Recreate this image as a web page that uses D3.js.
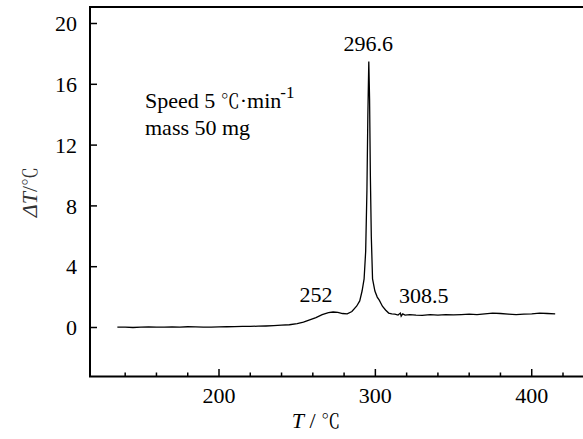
<!DOCTYPE html>
<html><head><meta charset="utf-8">
<script src="https://cdn.jsdelivr.net/npm/d3@7"></script>
<style>body{margin:0;background:#fff}svg{display:block}</style>
</head><body>
<script>
// Data
const temps = [135,140,145,150,155,160,165,170,175,180,185,190,195,200,205,210,215,220,225,230,235,240,245,250,254,258,262,266,270,273,276,279,282,285,288,290,291.5,292.8,293.8,294.6,295.2,295.8,296.3,296.8,297.4,298.2,299.7,301.2,302.5,304.5,306.5,308.5,310.5,312.5,314.5,316,316.5,317.5,319,322,326,330,335,340,345,350,355,360,365,370,375,380,385,390,395,400,405,410,415];
const deltaT = [0.02,0.03,0.0,0.02,0.04,0.02,0.03,0.04,0.03,0.05,0.04,0.03,0.02,0.04,0.05,0.06,0.08,0.07,0.09,0.1,0.12,0.15,0.18,0.25,0.35,0.5,0.65,0.85,0.98,1.02,1.0,0.92,0.9,1.05,1.4,1.75,2.4,3.2,5,9,14,17.5,15,10,6,3.2,2.4,2.0,1.8,1.4,1.15,0.95,0.9,0.88,0.82,0.95,0.75,0.9,0.82,0.85,0.82,0.8,0.85,0.82,0.85,0.83,0.85,0.88,0.85,0.9,0.95,0.92,0.88,0.85,0.88,0.9,0.95,0.92,0.9];
const yTicks = [0,4,8,12,16,20];
const xMajor = [200,300,400];
const xMinor = [140,160,180,220,240,260,280,320,340,360,380,420];
const peakLabels = [{t:"296.6", x:295.5, y:18.2},{t:"252", x:262, y:1.65},{t:"308.5", x:331, y:1.6}];

const W=583,H=439;
const SERIF='"Liberation Serif"', CJK='"Noto Serif CJK SC"';
const svg=d3.select("body").append("svg").attr("width",W).attr("height",H);
const x=d3.scaleLinear().domain([117.5,200]).range([90,219]);
const y=d3.scaleLinear().domain([0,20]).range([327.5,23.5]);
const xR=620;
function txt(sel){ return sel.append("text").style("font-family",SERIF).style("font-size","22px").attr("fill","#000"); }

// frame
svg.append("path").attr("d",`M${xR},7 H90 V376.5 H${xR}`).attr("fill","none").attr("stroke","#000").attr("stroke-width",2);

// y ticks
yTicks.forEach(v=>{
  svg.append("line").attr("x1",90).attr("x2",97).attr("y1",y(v)).attr("y2",y(v)).attr("stroke","#000").attr("stroke-width",1.5);
  txt(svg).attr("x",77).attr("y",y(v)).attr("dy","0.35em").attr("text-anchor","end").text(v);
});
// x ticks
xMajor.forEach(v=>{
  svg.append("line").attr("x1",x(v)).attr("x2",x(v)).attr("y1",376.5).attr("y2",369).attr("stroke","#000").attr("stroke-width",1.5);
  txt(svg).attr("x",x(v)).attr("y",403).attr("text-anchor","middle").text(v);
});
xMinor.forEach(v=>{
  svg.append("line").attr("x1",x(v)).attr("x2",x(v)).attr("y1",376.5).attr("y2",372.5).attr("stroke","#000").attr("stroke-width",1.5);
});

// curve
const line=d3.line().x((d,i)=>x(temps[i])).y((d,i)=>y(deltaT[i]));
svg.append("path").datum(temps).attr("d",line).attr("fill","none").attr("stroke","#000").attr("stroke-width",1.3);

// peak labels
peakLabels.forEach(p=>{
  txt(svg).attr("x",x(p.x)).attr("y",y(p.y)).attr("text-anchor","middle").text(p.t);
});

// annotation
const a1=txt(svg).attr("x",145).attr("y",108);
a1.append("tspan").text("Speed 5 ");
a1.append("tspan").style("font-family",CJK).style("font-size","19px").text("℃");
a1.append("tspan").text("·min");
a1.append("tspan").text("-1").attr("dy",-10).attr("dx",-1).style("font-size","17px");
txt(svg).attr("x",145).attr("y",135).text("mass 50 mg");

// axis titles
const yt=txt(svg).attr("transform","translate(37,192) rotate(-90)").attr("text-anchor","middle").attr("fill","#333");
yt.append("tspan").text("ΔT").style("font-style","italic");
yt.append("tspan").text("/");
yt.append("tspan").style("font-family",CJK).style("font-size","19px").text("℃");

const xt=txt(svg).attr("x",316).attr("y",428).attr("text-anchor","middle");
xt.append("tspan").text("T").style("font-style","italic");
xt.append("tspan").text(" /  ");
xt.append("tspan").style("font-family",CJK).style("font-size","19px").text("℃");
</script>
</body></html>
